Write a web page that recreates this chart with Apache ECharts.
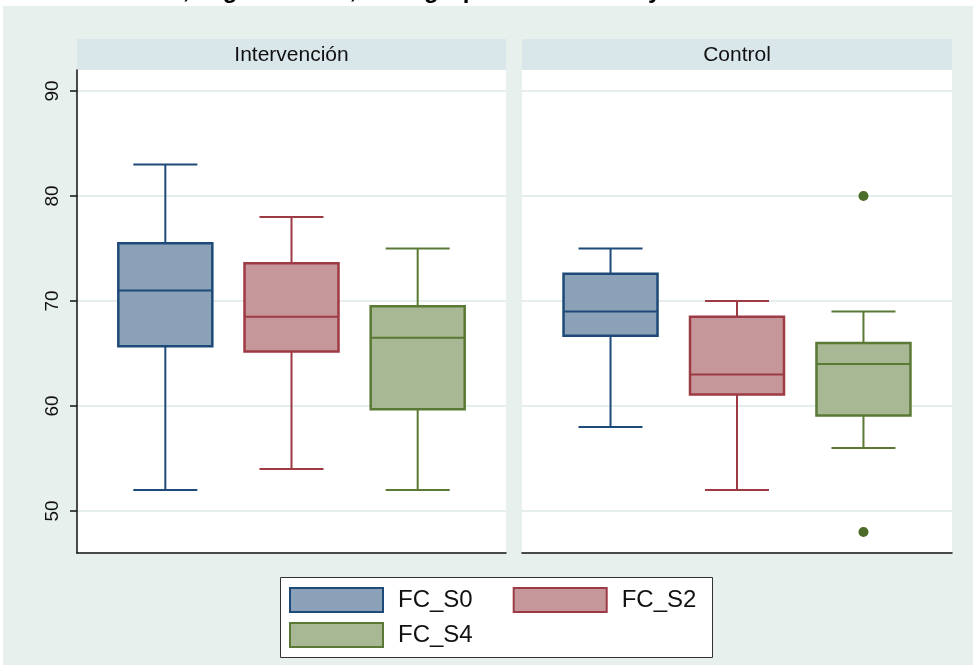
<!DOCTYPE html>
<html>
<head>
<meta charset="utf-8">
<script src="https://cdn.jsdelivr.net/npm/echarts@6.0.0/dist/echarts.min.js"></script>
<style>
  html, body { margin: 0; padding: 0; background: #fff; }
  #main { width: 973px; height: 665px; }
</style>
</head>
<body>
<div id="main"></div>
<script>
// data: [min, Q1, median, Q3, max]
var groups = ['FC_S0', 'FC_S2', 'FC_S4'];
var panels = ['Intervención', 'Control'];
var intervencion = [
  [52, 65.7, 71, 75.5, 83],
  [54, 65.2, 68.5, 73.6, 78],
  [52, 59.7, 66.5, 69.5, 75]
];
var control = [
  [58, 66.7, 69, 72.6, 75],
  [52, 61.1, 63, 68.5, 70],
  [56, 59.1, 64, 66, 69]
];
var controlOutliers = [['FC_S4', 80], ['FC_S4', 48]];
var yTicks = [50, 60, 70, 80, 90];

var fills = ['#8ba1b8', '#c6979a', '#a9b894'];
var strokes = ['#1d4a78', '#9d3a44', '#5a7934'];
var bg = '#e8f0ee';
var gridLine = '#e6eeec';

var chart = echarts.init(document.getElementById('main'));

var boxW = 94, capW = 64;

function renderBox(params, api) {
  var g = api.value(0);
  var x = api.coord([g, api.value(3)])[0];
  var yMin = api.coord([g, api.value(1)])[1];
  var yQ1 = api.coord([g, api.value(2)])[1];
  var yMed = api.coord([g, api.value(3)])[1];
  var yQ3 = api.coord([g, api.value(4)])[1];
  var yMax = api.coord([g, api.value(5)])[1];
  var stroke = strokes[g], fill = fills[g];
  var ln = { stroke: stroke, lineWidth: 2 };
  return {
    type: 'group',
    children: [
      { type: 'line', shape: { x1: x, y1: yMax, x2: x, y2: yQ3 }, style: ln },
      { type: 'line', shape: { x1: x, y1: yQ1, x2: x, y2: yMin }, style: ln },
      { type: 'line', shape: { x1: x - capW / 2, y1: yMax, x2: x + capW / 2, y2: yMax }, style: ln },
      { type: 'line', shape: { x1: x - capW / 2, y1: yMin, x2: x + capW / 2, y2: yMin }, style: ln },
      { type: 'rect', shape: { x: x - boxW / 2, y: yQ3, width: boxW, height: yQ1 - yQ3 },
        style: { fill: fill, stroke: stroke, lineWidth: 2.5 } },
      { type: 'line', shape: { x1: x - boxW / 2, y1: yMed, x2: x + boxW / 2, y2: yMed }, style: ln }
    ]
  };
}

var series = [];
[intervencion, control].forEach(function (panelData, p) {
  panelData.forEach(function (stats, g) {
    series.push({
      name: groups[g],
      type: 'custom',
      xAxisIndex: p,
      yAxisIndex: p,
      renderItem: renderBox,
      encode: { x: 0, y: [1, 2, 3, 4, 5] },
      itemStyle: { color: fills[g], borderColor: strokes[g] },
      data: [[g].concat(stats)],
      z: 3
    });
  });
});
series.push({
  name: 'atípicos',
  type: 'scatter',
  xAxisIndex: 1,
  yAxisIndex: 1,
  symbolSize: 10,
  itemStyle: { color: '#4c6c2a', opacity: 1 },
  data: controlOutliers.map(function (o) { return [groups.indexOf(o[0]), o[1]]; }),
  z: 4
});

function xAxisFor(i) {
  return {
    type: 'value', gridIndex: i, min: -0.7, max: 2.7,
    axisLine: { show: true, onZero: false, lineStyle: { color: '#111', width: 1.5 } },
    axisTick: { show: false }, axisLabel: { show: false }, splitLine: { show: false }
  };
}
function yAxisFor(i) {
  return {
    type: 'value', gridIndex: i, min: 46, max: 92,
    axisLine: { show: i === 0, onZero: false, lineStyle: { color: '#111', width: 1.5 } },
    axisTick: { show: i === 0, length: 7, customValues: yTicks, lineStyle: { color: '#111', width: 1.5 } },
    axisLabel: {
      show: i === 0, customValues: yTicks, rotate: 90, margin: 15,
      fontSize: 19, color: '#111', fontFamily: 'Liberation Sans, Arial, sans-serif'
    },
    splitLine: { show: true, lineStyle: { color: gridLine, width: 2 } }
  };
}

var grids = [
  { left: 77, top: 70, width: 429, height: 483 },
  { left: 522, top: 70, width: 430, height: 483 }
];

var legendText = { fontSize: 24, color: '#111', fontFamily: 'Liberation Sans, Arial, sans-serif', padding: [0, 0, 0, 10] };

var option = {
  backgroundColor: bg,
  animation: false,
  grid: grids.map(function (g) {
    return { left: g.left, top: g.top, width: g.width, height: g.height,
      show: true, backgroundColor: '#fff', borderWidth: 0 };
  }),
  xAxis: [xAxisFor(0), xAxisFor(1)],
  yAxis: [yAxisFor(0), yAxisFor(1)],
  legend: [
    {
      data: groups.slice(0, 2).map(function (n) {
        var g = groups.indexOf(n);
        return { name: n, icon: 'rect', itemStyle: { color: fills[g], borderColor: strokes[g], borderWidth: 2 } };
      }),
      left: 289, top: 587, padding: 0, itemWidth: 93, itemHeight: 24, itemGap: 40,
      textStyle: legendText,
      selectedMode: false
    },
    {
      data: [{ name: groups[2], icon: 'rect', itemStyle: { color: fills[2], borderColor: strokes[2], borderWidth: 2 } }],
      left: 289, top: 622, padding: 0, itemWidth: 93, itemHeight: 24,
      textStyle: legendText,
      selectedMode: false
    }
  ],
  graphic: [
    // white margin at the top and left edge
    { type: 'rect', left: 0, top: 0, shape: { width: 973, height: 6 }, style: { fill: '#fff' }, z: -1 },
    { type: 'rect', left: 0, top: 0, shape: { width: 3, height: 665 }, style: { fill: '#fff' }, z: -1 },
    // title, cropped at the top of the picture
    { type: 'text', left: 40, top: -21,
      style: { text: 'Intervención, según sesión, en el grupo intervención y control',
        font: 'bold 24px Liberation Sans, Arial, sans-serif', fill: '#000' }, z: 10 },
    // panel headers
    { type: 'rect', left: grids[0].left, top: 39, shape: { width: grids[0].width, height: 31 }, style: { fill: '#d9e6ea' } },
    { type: 'rect', left: grids[1].left, top: 39, shape: { width: grids[1].width, height: 31 }, style: { fill: '#d9e6ea' } },
    { type: 'text', x: grids[0].left + grids[0].width / 2, y: 55,
      style: { text: panels[0], font: '21px Liberation Sans, Arial, sans-serif', fill: '#111', textAlign: 'center', textVerticalAlign: 'middle' } },
    { type: 'text', x: grids[1].left + grids[1].width / 2, y: 55,
      style: { text: panels[1], font: '21px Liberation Sans, Arial, sans-serif', fill: '#111', textAlign: 'center', textVerticalAlign: 'middle' } },
    // legend box
    { type: 'rect', left: 280, top: 577, shape: { width: 432, height: 80 },
      style: { fill: '#fff', stroke: '#333', lineWidth: 1 }, z: -1 }
  ],
  series: series
};

chart.setOption(option);
</script>
</body>
</html>
